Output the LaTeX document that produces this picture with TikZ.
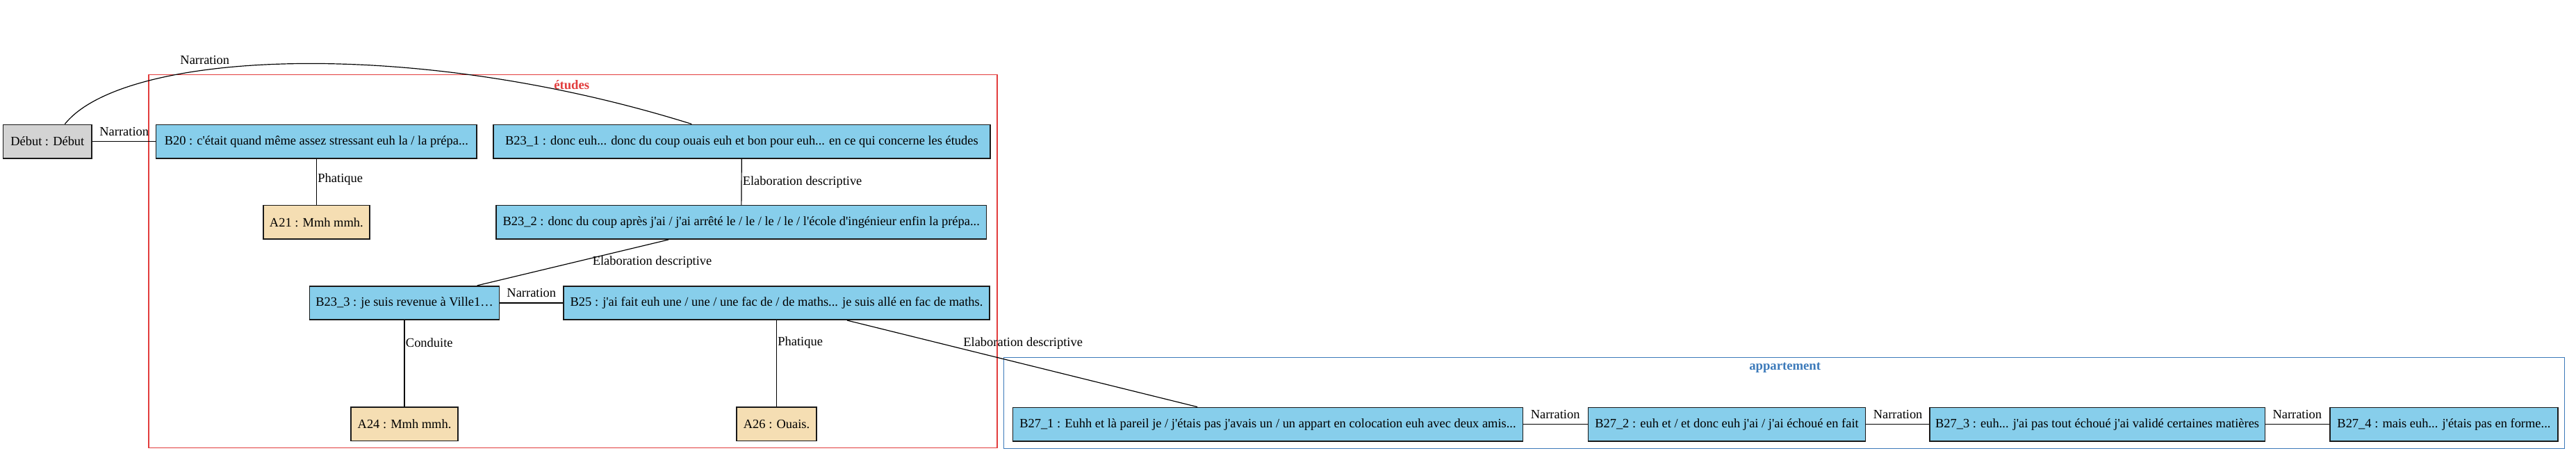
\documentclass[tikz,border=0pt]{standalone}
\usepackage{fontspec}
\setmainfont{Liberation Serif}[Ligatures=TeXOff]
\usepackage{tikz}

\definecolor{boxblue}{RGB}{135,206,235}
\definecolor{boxtan}{RGB}{245,222,179}
\definecolor{boxgrey}{RGB}{211,211,211}
\definecolor{etudesred}{RGB}{226,60,60}
\definecolor{appartblue}{RGB}{60,122,186}

\begin{document}
\begin{tikzpicture}[x=1pt,y=1pt,yscale=-1,
  unit/.style={draw=black!90, line width=0.7pt, minimum height=20.5pt, inner xsep=2pt, inner ysep=1pt, font=\fontsize{7.8}{9}\selectfont},
  bunit/.style={unit, fill=boxblue},
  aunit/.style={unit, fill=boxtan},
  rel/.style={font=\fontsize{7.8}{9}\selectfont, inner sep=0.5pt},
  link/.style={draw=black, line width=0.5pt}]
\useasboundingbox (0,0) rectangle (1568,279.6);

%Shape: Rectangle (cluster etudes)
\draw [etudesred, line width=0.5pt] (90.5,45.5) rectangle (607,272.7);
%Shape: Rectangle (cluster appartement)
\draw [appartblue, line width=0.6pt] (611,217.5) rectangle (1561,273);
% Text Node
\node [font=\fontsize{7.9}{9}\selectfont\bfseries, text=etudesred, inner sep=0.5pt] (etudes) at (348,51.6) {études};
% Text Node
\node [font=\fontsize{7.9}{9}\selectfont\bfseries, text=appartblue, inner sep=0.5pt] (appart) at (1086.5,224) {appartement};

%Units
\node [unit, fill=boxgrey, minimum width=54pt] (debut) at (28.9,86.1) {Début : Début};
\node [bunit, minimum width=195.2pt] (b20) at (192.6,86.1) {B20 : c'était quand même assez stressant euh la / la prépa...};
\node [bunit, minimum width=302.4pt] (b231) at (451.5,86.1) {B23\_1 : donc euh... donc du coup ouais euh et bon pour euh... en ce qui concerne les études};
\node [aunit, minimum width=64.7pt] (a21) at (192.6,135.3) {A21 : Mmh mmh.};
\node [bunit, minimum width=298.4pt] (b232) at (451.2,135.3) {B23\_2 : donc du coup après j'ai / j'ai arrêté le / le / le / le / l'école d'ingénieur enfin la prépa...};
\node [bunit, minimum width=115.5pt] (b233) at (246.2,184.4) {B23\_3 : je suis revenue à Ville1…};
\node [bunit, minimum width=259.5pt] (b25) at (472.7,184.4) {B25 : j'ai fait euh une / une / une fac de / de maths... je suis allé en fac de maths.};
\node [aunit, minimum width=65pt] (a24) at (246.2,258.1) {A24 : Mmh mmh.};
\node [aunit, minimum width=48.7pt] (a26) at (472.7,258.1) {A26 : Ouais.};
\node [bunit, minimum width=310.5pt] (b271) at (771.7,258.3) {B27\_1 : Euhh et là pareil je / j'étais pas j'avais un / un appart en colocation euh avec deux amis...};
\node [bunit, minimum width=168.7pt] (b272) at (1051.1,258.3) {B27\_2 : euh et / et donc euh j'ai / j'ai échoué en fait};
\node [bunit, minimum width=204.2pt] (b273) at (1276.6,258.3) {B27\_3 : euh... j'ai pas tout échoué j'ai validé certaines matières};
\node [bunit, minimum width=138.6pt] (b274) at (1487.6,258.3) {B27\_4 : mais euh... j'étais pas en forme...};

%Straight Lines
\draw [link] (debut) -- (b20);
\draw [link] (debut.45) .. controls (75,31) and (250,22) .. ([xshift=-30.5pt]b231.north);
\draw [link] (b20) -- (a21);
\draw [link] (b231) -- (b232);
\draw [link] (b232) -- (b233);
\draw [link] (b233) -- (b25);
\draw [link] (b233) -- (a24);
\draw [link] (b25) -- (a26);
\draw [link] (b25) -- (b271);
\draw [link] (b271) -- (b272);
\draw [link] (b272) -- (b273);
\draw [link] (b273) -- (b274);

% Text Node
\node [rel] (nar0) at (75.6,80.3) {Narration};
% Text Node
\node [rel] (nar1) at (124.7,36.4) {Narration};
% Text Node
\node [rel, anchor=west] (pha1) at (192.8,109.3) {Phatique};
% Text Node
\node [rel, anchor=west] (ela1) at (451.4,110.8) {Elaboration descriptive};
% Text Node
\node [rel] (ela2) at (397,159.5) {Elaboration descriptive};
% Text Node
\node [rel] (nar2) at (323.5,178.4) {Narration};
% Text Node
\node [rel, anchor=west] (con1) at (246.3,208.7) {Conduite};
% Text Node
\node [rel, anchor=west] (pha2) at (472.8,208.7) {Phatique};
% Text Node
\node [rel] (ela3) at (622.7,209) {Elaboration descriptive};
% Text Node
\node [rel] (nar3) at (946.7,252.4) {Narration};
% Text Node
\node [rel] (nar4) at (1155.2,252.4) {Narration};
% Text Node
\node [rel] (nar5) at (1398.3,252.4) {Narration};

\end{tikzpicture}
\end{document}
